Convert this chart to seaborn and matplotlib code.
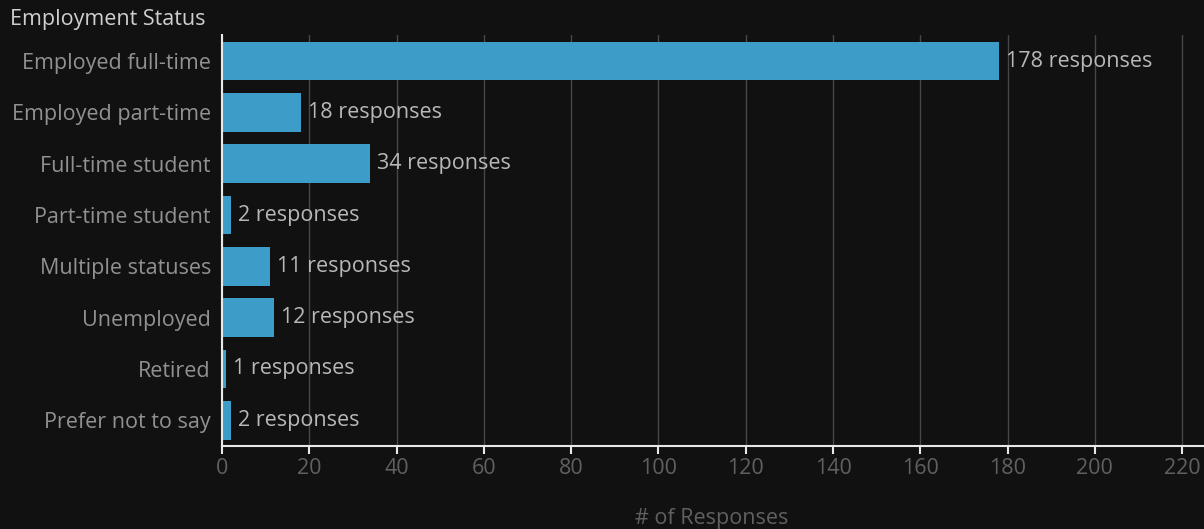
import matplotlib
matplotlib.use("Agg")
import matplotlib.pyplot as plt
import seaborn as sns
import pandas as pd

categories = [
    "Employed full-time",
    "Employed part-time",
    "Full-time student",
    "Part-time student",
    "Multiple statuses",
    "Unemployed",
    "Retired",
    "Prefer not to say",
]
responses = [178, 18, 34, 2, 11, 12, 1, 2]
x_ticks = [0, 20, 40, 60, 80, 100, 120, 140, 160, 180, 200, 220]

bg = "#111111"
bar_color = "#3e9cc8"
label_grey = "#919191"
value_grey = "#b8b8b8"
fs = 15.5

sns.set_style("dark")
plt.rcParams["font.family"] = ["Open Sans", "DejaVu Sans"]

df = pd.DataFrame({"status": categories, "count": responses})

fig = plt.figure(figsize=(12.04, 5.29), dpi=100, facecolor=bg)
ax = fig.add_axes([0.1844, 0.157, 0.8156, 0.776])
ax.set_facecolor(bg)

sns.barplot(data=df, y="status", x="count", orient="h", color=bar_color,
            saturation=1, width=0.75, linewidth=0, ax=ax, zorder=3)

ax.bar_label(ax.containers[0], labels=[f"{v} responses" for v in responses],
             padding=5, color=value_grey, fontsize=fs, zorder=4)

ax.set_xlim(0, 225)
ax.set_xticks(x_ticks)
ax.grid(axis="x", color="#474747", linewidth=1, zorder=0)
ax.grid(axis="y", visible=False)

for side in ["top", "right"]:
    ax.spines[side].set_visible(False)
for side in ["left", "bottom"]:
    ax.spines[side].set_visible(True)
    ax.spines[side].set_color("#e8e8e8")
    ax.spines[side].set_linewidth(1.5)
    ax.spines[side].set_zorder(5)

ax.tick_params(axis="x", colors="#e8e8e8", labelcolor="#606060", length=6,
               width=1.5, labelsize=fs, direction="out", bottom=True, pad=3)
ax.tick_params(axis="y", length=0, labelcolor=label_grey, labelsize=fs, pad=8)

ax.set_ylabel("")
ax.set_xlabel("# of Responses", color="#606060", fontsize=fs)
ax.xaxis.set_label_coords((712 - 222) / (1204 - 222), -0.15)

fig.text(10 / 1204, 1 - 20 / 529, "Employment Status", color="#cfcfcf",
         fontsize=fs, ha="left", va="center")

fig.savefig("out.png", dpi=100, facecolor=bg)
